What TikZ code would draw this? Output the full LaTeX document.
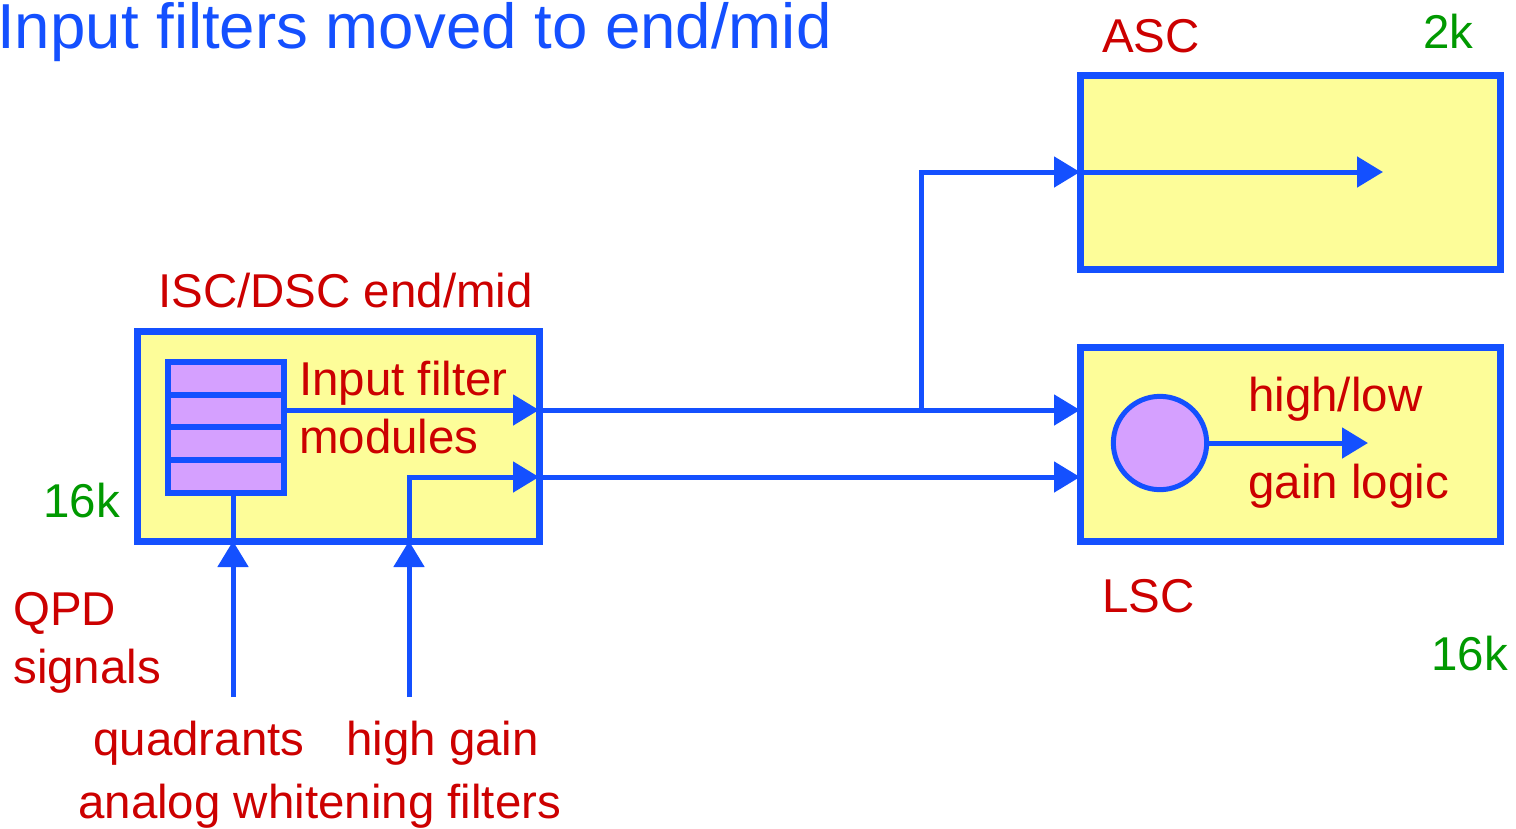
\documentclass[tikz,border=0pt]{standalone}
\usepackage{fontspec}
\setmainfont{Liberation Sans}
\usetikzlibrary{arrows.meta}
\definecolor{lblue}{RGB}{20,80,255}
\definecolor{lred}{RGB}{204,0,0}
\definecolor{lgreen}{RGB}{0,153,0}
\definecolor{lyellow}{RGB}{253,253,153}
\definecolor{lpurple}{RGB}{213,160,255}
\tikzset{
  box/.style={draw=lblue, fill=lyellow, line width=5.25pt, inner sep=0pt, outer sep=0pt, rectangle},
  conn/.style={draw=lblue, line width=3.75pt},
  arr/.style={conn, -{Triangle[length=19.5pt,width=22.5pt]}},
  lbl/.style={text=lred, anchor=base west, inner sep=0pt, font=\fontsize{35.6pt}{40pt}\selectfont},
  glbl/.style={lbl, text=lgreen},
}
\begin{document}
\begin{tikzpicture}[x=0.75pt,y=-0.75pt]
\useasboundingbox (0,0) rectangle (1516,828);
% title
\node[anchor=base west, inner sep=0pt, text=lblue, font=\fontsize{47.7pt}{52pt}\selectfont] (title) at (-3,48) {Input filters moved to end/mid};
% boxes
\node[box, minimum width=301.5pt, minimum height=157.5pt] (isc) at (338,436) {};
\node[box, minimum width=315pt, minimum height=145.5pt] (asc) at (1290,172) {};
\node[box, minimum width=315pt, minimum height=145.5pt] (lsc) at (1290,444) {};
% module stack
\node[draw=lblue, fill=lpurple, line width=3.9pt, inner sep=0pt, outer sep=0pt, minimum width=87pt, minimum height=98.25pt] (stack) at (226,427.5) {};
\draw[conn, line width=3.9pt] (stack.west |- 0,395) -- (stack.east |- 0,395);
\draw[conn, line width=3.9pt] (stack.west |- 0,427) -- (stack.east |- 0,427);
\draw[conn, line width=3.9pt] (stack.west |- 0,460) -- (stack.east |- 0,460);
% circle
\node[circle, draw=lblue, fill=lpurple, line width=3.75pt, inner sep=0pt, outer sep=0pt, minimum size=70pt] (circ) at (1160,443) {};
% coordinates
\coordinate (iscA) at (539,410);
\coordinate (iscB) at (539,477);
\coordinate (lscA) at (1080,410);
\coordinate (lscB) at (1080,477);
\coordinate (ascIn) at (1080,172);
\coordinate (ascEnd) at (1383,172);
\coordinate (branch) at (921,410);
\coordinate (hgTurn) at (409,477);
\coordinate (qIn) at (233,697);
\coordinate (hIn) at (409,697);
\coordinate (circEnd) at (1368,443);
% connectors
\draw[arr] (stack.east |- iscA) -- (iscA);
\draw[arr] (hgTurn |- isc.south) -- (hgTurn) -- (iscB);
\draw[conn] (qIn |- stack.south) -- (qIn |- isc.south);
\draw[arr] (qIn) -- (qIn |- isc.south);
\draw[arr] (hIn) -- (hIn |- isc.south);
\draw[arr] (iscA) -- (lscA);
\draw[arr] (iscB) -- (lscB);
\draw[arr] (branch) -- (branch |- ascIn) -- (ascIn);
\draw[arr] (ascIn) -- (ascEnd);
\draw[arr] (circ.east) -- (circEnd);
% labels
\node[lbl] (iscl) at (158,307) {ISC/DSC end/mid};
\node[lbl] (ifl) at (299,395) {Input filter};
\node[lbl] (modl) at (299,453) {modules};
\node[glbl] (k16a) at (43,517) {16k};
\node[lbl] (qpd) at (13,625) {QPD};
\node[lbl] (sig) at (13,683) {signals};
\node[lbl] (quad) at (93,755) {quadrants};
\node[lbl] (hg) at (346,755) {high gain};
\node[lbl] (awf) at (78,818) {analog whitening filters};
\node[lbl] (ascl) at (1102,52) {ASC};
\node[glbl] (k2) at (1423,48) {2k};
\node[lbl] (hl) at (1248,411) {high/low};
\node[lbl] (gl) at (1248,498) {gain logic};
\node[lbl] (lscl) at (1102,612) {LSC};
\node[glbl] (k16b) at (1431,670) {16k};
\end{tikzpicture}
\end{document}
